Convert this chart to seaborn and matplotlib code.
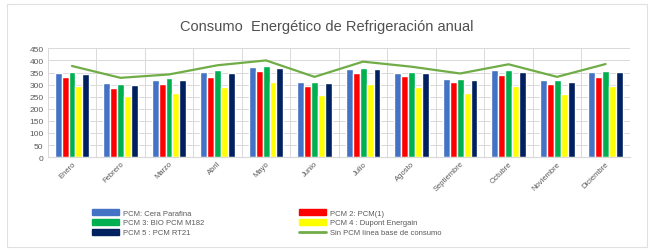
import matplotlib.pyplot as plt
import pandas as pd
import seaborn as sns

# Data
months = ["Enero", "Febrero", "Marzo", "Abril", "Mayo", "Junio", "Julio",
          "Agosto", "Septiembre", "Octubre", "Noviembre", "Diciembre"]
pcm1 = [350, 305, 321, 353, 371, 312, 366, 348, 323, 359, 317, 353]
pcm2 = [332, 287, 302, 330, 357, 296, 348, 337, 312, 339, 303, 332]
pcm3 = [353, 303, 327, 360, 377, 312, 368, 353, 325, 361, 320, 356]
pcm4 = [295, 253, 266, 291, 312, 256, 303, 290, 267, 295, 262, 295]
pcm5 = [345, 300, 321, 349, 370, 306, 363, 346, 320, 353, 312, 352]
baseline = [377, 328, 342, 380, 400, 332, 395, 374, 346, 384, 332, 385]

series_names = ["PCM: Cera Parafina", "PCM 2: PCM(1)", "PCM 3: BIO PCM M182",
                "PCM 4 : Dupont Energain", "PCM 5 : PCM RT21"]
line_name = "Sin PCM línea base de consumo"
colors = ["#4472C4", "#FF0000", "#00B050", "#FFFF00", "#002060"]

rows = []
for name, vals in zip(series_names, [pcm1, pcm2, pcm3, pcm4, pcm5]):
    for m, v in zip(months, vals):
        rows.append({"mes": m, "serie": name, "valor": v})
df = pd.DataFrame(rows)

sns.set_style("white")
plt.rcParams["font.family"] = ["Liberation Sans", "DejaVu Sans"]

fig = plt.figure(figsize=(6.54, 2.53), dpi=100)
ax = fig.add_axes([0.073, 0.375, 0.89, 0.43])

sns.barplot(data=df, x="mes", y="valor", hue="serie", order=months,
            hue_order=series_names, palette=colors, width=0.72,
            saturation=1, ax=ax, legend=False)
sns.lineplot(x=list(range(len(months))), y=baseline, color="#70AD47",
             linewidth=1.6, ax=ax)

ax.set_ylim(0, 450)
ax.set_xlim(-0.5, len(months) - 0.5)
ax.set_yticks(range(0, 451, 50))
ax.tick_params(axis="y", labelsize=6, colors="#595959", length=0, pad=3)
ax.tick_params(axis="x", labelsize=5.5, colors="#595959", length=0, pad=2)
plt.setp(ax.get_xticklabels(), rotation=45, ha="right", rotation_mode="anchor")
ax.set_xlabel("")
ax.set_ylabel("")

# Excel style grid
ax.set_axisbelow(True)
ax.yaxis.grid(True, color="#D9D9D9", linewidth=0.7)
for i in range(len(months) + 1):
    ax.axvline(i - 0.5, color="#D9D9D9", linewidth=0.7, zorder=0)
for s in ax.spines.values():
    s.set_visible(False)
ax.spines["bottom"].set_visible(True)
ax.spines["bottom"].set_color("#D9D9D9")

fig.suptitle("Consumo  Energético de Refrigeración anual", y=0.92,
             fontsize=10.5, color="#505050")

# Legend in the Excel order (two columns)
handles = [plt.Rectangle((0, 0), 1, 1, color=c) for c in colors]
line_handle = plt.Line2D([0], [0], color="#70AD47", linewidth=2)
leg_handles = [handles[0], handles[2], handles[4], handles[1], handles[3], line_handle]
leg_labels = [series_names[0], series_names[2], series_names[4],
              series_names[1], series_names[3], line_name]
fig.legend(leg_handles, leg_labels, ncol=2, loc="upper left",
           bbox_to_anchor=(0.135, 0.185), frameon=False, fontsize=5.5,
           handlelength=3.5, handleheight=0.8, labelspacing=0.3,
           columnspacing=12.5, borderpad=0, handletextpad=0.5,
           labelcolor="#595959")

# thin outline around the chart area like the Excel chart box
fig.patches.append(plt.Rectangle((0.01, 0.02), 0.98, 0.96, transform=fig.transFigure,
                                 fill=False, edgecolor="#E0E0E0", linewidth=0.8))

fig.savefig("out.png", dpi=100)
plt.close()
